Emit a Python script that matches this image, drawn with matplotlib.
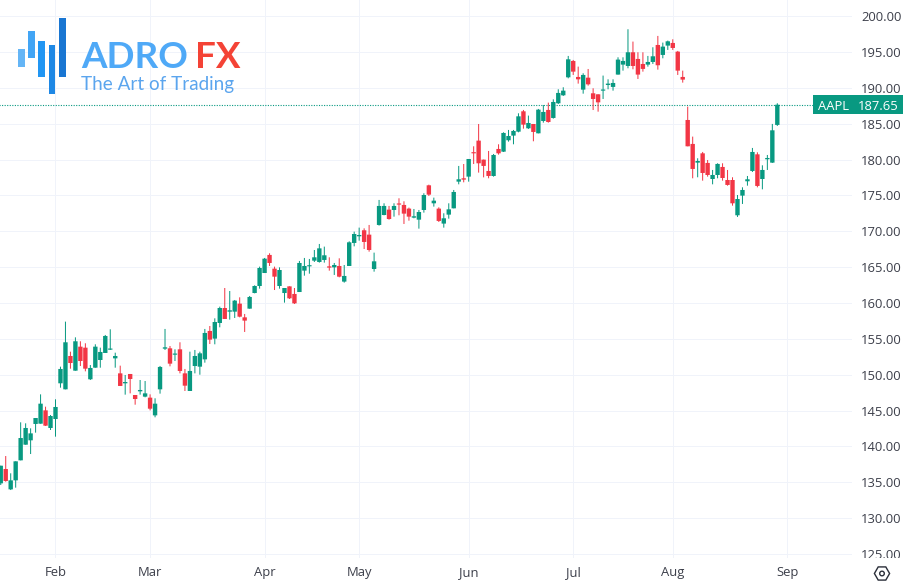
import numpy as np
import matplotlib
matplotlib.use("Agg")
import matplotlib.pyplot as plt
from matplotlib.patches import Rectangle, RegularPolygon, Circle
from matplotlib.transforms import Bbox, IdentityTransform

symbol = "AAPL"
last_price = 187.65
first_session = -11
month_sessions = [0, 19, 42, 61, 83, 104, 124, 147]
month_labels = ["Feb", "Mar", "Apr", "May", "Jun", "Jul", "Aug", "Sep"]
price_ticks = [125, 130, 135, 140, 145, 150, 155, 160, 165, 170, 175, 180, 185, 190, 195, 200]

opens = [134.85, 136.85, 134.01, 135.27, 138.06, 140.24, 140.85, 143.13, 143.17, 145.03, 142.57,
         143.82, 148.80, 147.96, 152.61, 150.56, 153.91, 153.77, 149.36, 150.98, 152.05,
         153.03, 153.49, 152.28, 150.19, 148.80, 150.10, 147.17, 147.68, 146.94, 146.80,
         144.33, 147.96, 153.63, 153.68, 152.79, 153.54, 150.19, 147.73, 151.21, 151.12,
         152.14, 156.10, 155.03, 157.21, 159.30, 158.79, 158.79, 159.91, 158.00, 159.21,
         161.39, 162.37, 164.18, 166.70, 164.79, 162.37, 161.39, 162.32, 161.26, 161.53,
         164.51, 165.11, 165.90, 165.72, 166.00, 165.11, 164.97, 165.16, 162.98, 165.16,
         168.37, 169.30, 170.14, 169.53, 164.74, 170.88, 172.27, 173.02, 172.97, 173.85,
         173.67, 173.16, 171.90, 171.62, 172.97, 176.41, 173.90, 173.16, 171.07, 172.32,
         173.20, 176.92, 177.39, 177.62, 181.01, 182.64, 179.99, 178.41, 177.71, 181.48,
         181.10, 182.69, 183.34, 183.89, 186.73, 184.36, 184.96, 183.66, 185.38, 186.92,
         185.80, 187.85, 188.96, 191.47, 193.75, 191.52, 189.75, 191.42, 189.24, 189.10,
         189.61, 190.40, 190.13, 191.85, 193.24, 193.05, 194.96, 194.03, 193.33, 193.24,
         193.61, 195.98, 194.59, 195.89, 196.26, 195.05, 191.52, 185.52, 182.18, 179.57,
         180.87, 179.53, 177.29, 177.85, 178.97, 177.15, 177.15, 172.23, 174.97, 176.97,
         178.41, 180.73, 177.29, 180.04, 179.57, 184.83]

highs = [137.31, 138.66, 136.25, 137.92, 143.36, 143.22, 142.52, 143.96, 147.26, 145.54, 144.38,
         146.57, 151.12, 157.40, 153.21, 155.21, 154.66, 154.38, 151.35, 154.24, 153.77,
         155.54, 156.33, 153.07, 151.26, 149.96, 150.10, 147.17, 149.26, 149.12, 147.26,
         146.71, 151.22, 156.38, 154.00, 153.54, 154.52, 150.80, 153.21, 153.45, 153.21,
         156.38, 156.79, 157.86, 159.49, 162.09, 161.67, 160.42, 160.79, 158.47, 160.98,
         162.46, 165.07, 166.28, 166.93, 165.07, 164.97, 162.09, 162.32, 162.09, 165.86,
         166.28, 166.14, 167.39, 168.23, 167.86, 166.37, 165.58, 166.23, 165.30, 168.60,
         169.95, 170.51, 170.41, 170.88, 167.02, 174.37, 173.90, 173.53, 173.90, 174.60,
         174.18, 173.30, 173.11, 172.97, 175.30, 176.50, 174.69, 173.34, 172.51, 173.90,
         175.76, 179.11, 179.38, 180.08, 181.85, 184.96, 179.99, 181.20, 180.78, 182.13,
         183.80, 184.13, 184.13, 186.45, 186.92, 186.13, 184.96, 187.06, 187.61, 187.94,
         188.40, 189.80, 190.08, 194.45, 193.89, 192.96, 192.03, 192.63, 189.94, 189.10,
         191.71, 191.19, 191.19, 194.26, 194.26, 198.17, 196.45, 194.96, 194.96, 194.45,
         195.66, 197.24, 196.31, 196.59, 196.77, 195.15, 192.40, 187.38, 183.20, 180.18,
         181.06, 179.94, 178.55, 179.48, 179.48, 178.55, 177.53, 175.06, 176.13, 177.71,
         181.62, 181.01, 179.20, 180.64, 184.97, 187.85]

lows = [134.62, 135.08, 133.92, 134.25, 138.06, 140.24, 138.94, 141.92, 143.17, 142.85, 142.29,
        141.36, 148.19, 147.96, 150.84, 150.56, 151.21, 150.47, 149.26, 150.98, 150.98,
        153.03, 153.45, 150.98, 148.43, 147.22, 147.40, 145.82, 147.22, 146.85, 145.03,
        144.06, 147.36, 153.45, 151.17, 151.91, 150.19, 147.73, 147.73, 150.19, 150.00,
        151.68, 154.28, 154.24, 156.61, 157.77, 157.68, 157.91, 158.00, 155.96, 159.21,
        161.35, 162.00, 164.18, 165.16, 161.81, 162.00, 160.05, 160.56, 159.86, 161.53,
        163.81, 164.09, 165.72, 165.63, 165.63, 164.51, 163.91, 163.58, 162.84, 165.16,
        167.90, 168.69, 167.53, 167.16, 164.37, 170.79, 172.23, 171.62, 172.04, 172.23,
        171.02, 171.48, 171.81, 170.37, 172.60, 174.92, 173.44, 171.30, 170.51, 171.76,
        173.20, 176.55, 176.83, 176.92, 179.38, 178.18, 177.52, 177.39, 177.62, 180.69,
        181.06, 182.50, 182.13, 183.80, 184.31, 184.27, 182.55, 183.66, 185.15, 185.15,
        185.71, 187.75, 188.87, 191.33, 191.80, 190.59, 189.19, 190.31, 186.91, 186.68,
        188.45, 189.80, 189.61, 191.85, 192.40, 192.73, 192.59, 191.24, 192.26, 192.96,
        193.33, 192.54, 194.12, 195.29, 195.29, 191.80, 190.73, 181.85, 177.39, 177.53,
        177.06, 177.62, 176.55, 177.39, 177.06, 176.36, 173.57, 172.00, 173.81, 176.36,
        178.27, 176.13, 175.85, 178.55, 179.53, 184.69]

closes = [137.31, 135.18, 135.27, 137.92, 141.17, 142.57, 141.82, 143.96, 145.96, 142.89, 144.24,
          145.50, 150.80, 154.52, 151.63, 154.66, 151.91, 150.84, 150.94, 153.91, 153.17,
          155.40, 153.63, 152.61, 148.43, 148.98, 149.40, 146.61, 147.87, 147.40, 145.26,
          145.96, 151.08, 153.82, 151.54, 152.93, 150.52, 148.47, 150.52, 152.61, 152.98,
          155.82, 154.89, 157.35, 159.30, 157.77, 158.98, 160.33, 158.09, 157.54, 160.84,
          162.37, 164.88, 166.18, 165.58, 163.67, 164.60, 162.09, 160.65, 159.95, 165.58,
          165.16, 165.25, 166.37, 167.62, 166.65, 164.93, 165.30, 163.67, 163.77, 168.46,
          169.62, 169.48, 168.51, 167.39, 165.81, 173.53, 173.53, 171.71, 173.53, 173.72,
          172.46, 172.04, 172.09, 172.69, 175.06, 175.11, 174.27, 171.44, 171.81, 173.06,
          175.48, 177.25, 177.20, 180.08, 180.87, 179.48, 179.11, 177.71, 180.64, 180.87,
          183.71, 183.29, 183.99, 186.03, 184.87, 185.10, 183.85, 186.96, 186.64, 185.24,
          188.03, 189.29, 189.61, 193.98, 192.26, 191.19, 191.80, 190.49, 188.45, 187.98,
          189.75, 190.59, 190.68, 193.94, 193.75, 194.96, 193.05, 191.85, 192.64, 193.61,
          194.40, 193.15, 195.75, 196.49, 195.56, 192.40, 191.15, 181.85, 178.69, 179.80,
          178.13, 177.85, 177.85, 179.39, 177.43, 176.46, 173.90, 174.50, 175.76, 177.25,
          181.06, 176.32, 178.55, 180.22, 184.08, 187.65]

UP = "#089981"
DOWN = "#f23645"
GRID = "#f0f3fa"
TEXT = "#3c3f4a"
W, H = 904, 582

plt.rcParams["font.family"] = ["Open Sans", "DejaVu Sans"]
fig = plt.figure(figsize=(W / 100, H / 100), dpi=100, facecolor="white")
ax = fig.add_axes([0, (H - 558) / H, 852 / W, 558 / H], facecolor="white")

o, h, l, c = map(np.array, (opens, highs, lows, closes))
sessions = np.arange(first_session, first_session + len(o))
colors = np.where(c >= o, UP, DOWN)
wicks = ax.vlines(sessions, l, h, colors=colors, linewidth=0.72, zorder=3)
wicks.set_snap(False)
bodies = ax.bar(sessions, np.maximum(np.abs(c - o), 0.16), bottom=np.minimum(o, c), width=0.88,
                color=colors, linewidth=0, zorder=4)
for b in bodies:
    b.set_snap(False)

ax.set_xlim(-55.5 / 4.978, (852 - 55.5) / 4.978)
ax.set_ylim(124.44, 202.25)
ax.set_xticks(month_sessions, month_labels)
ax.set_yticks(price_ticks, [f"{p:.2f}" for p in price_ticks])
ax.yaxis.tick_right()
ax.grid(True, color=GRID, linewidth=0.72, zorder=0)
ax.set_axisbelow(True)
ax.tick_params(axis="both", length=0, labelsize=9.4, labelcolor=TEXT)
ax.tick_params(axis="x", pad=6)
ax.tick_params(axis="y", pad=6.5)
for s in ax.spines.values():
    s.set_visible(False)
for lab in ax.get_yticklabels():
    lab.set_clip_box(Bbox([[0, H - 558], [W, H]]))
    lab.set_clip_on(True)

ax.plot([sessions[0] - 1, 170], [last_price, last_price], color=UP, linewidth=0.8,
        linestyle=(0, (1, 1.3)), zorder=2)

# price tag
y_tag = 554 - (last_price - 125) * 7.171
fig.add_artist(Rectangle((813 / W, 1 - (y_tag + 9.5) / H), 91 / W, 19 / H, transform=fig.transFigure,
                         facecolor=UP, edgecolor="none", zorder=5))
fig.text(818 / W, 1 - y_tag / H, symbol, color="white", fontsize=9.4, va="center_baseline", ha="left",
         fontweight="medium", zorder=6)
fig.text(899 / W, 1 - y_tag / H, f"{last_price:.2f}", color="white", fontsize=9.4,
         va="center_baseline", ha="right", fontweight="medium", zorder=6)

# settings icon
fig.add_artist(RegularPolygon((882, H - 573.5), 6, radius=7.6, orientation=np.pi / 2, transform=IdentityTransform(),
                              facecolor="none", edgecolor="#2a2e39", linewidth=1.0, zorder=5))
fig.add_artist(Circle((882, H - 573.5), 2.3, transform=IdentityTransform(),
                      facecolor="none", edgecolor="#2a2e39", linewidth=1.0, zorder=5))

# watermark logo
for (x0, y0, x1, y1), col in zip(
        [(18, 49, 25, 67), (28, 31, 35, 58), (38, 41, 45, 77), (49, 45, 55, 94), (59, 18, 66, 77)],
        ["#64b5f6", "#42a5f5", "#2196f3", "#1e88e5", "#1976d2"]):
    fig.add_artist(Rectangle((x0 / W, 1 - y1 / H), (x1 - x0) / W, (y1 - y0) / H,
                             transform=fig.transFigure, facecolor=col, edgecolor="none", zorder=5))
fig.text(81 / W, 1 - 68 / H, "ADRO", color="#4fa9f7", fontsize=26.5, fontfamily="Lato",
         fontweight="bold", ha="left", va="baseline", zorder=6)
fig.text(195 / W, 1 - 68 / H, "FX", color="#f44336", fontsize=26.5, fontfamily="Lato",
         fontweight="bold", ha="left", va="baseline", zorder=6)
fig.text(81 / W, 1 - 90 / H, "The Art of Trading", color="#5ba5ee", fontsize=13.6,
         fontfamily="Lato", ha="left", va="baseline", zorder=6)

fig.savefig("out.png", dpi=100)
